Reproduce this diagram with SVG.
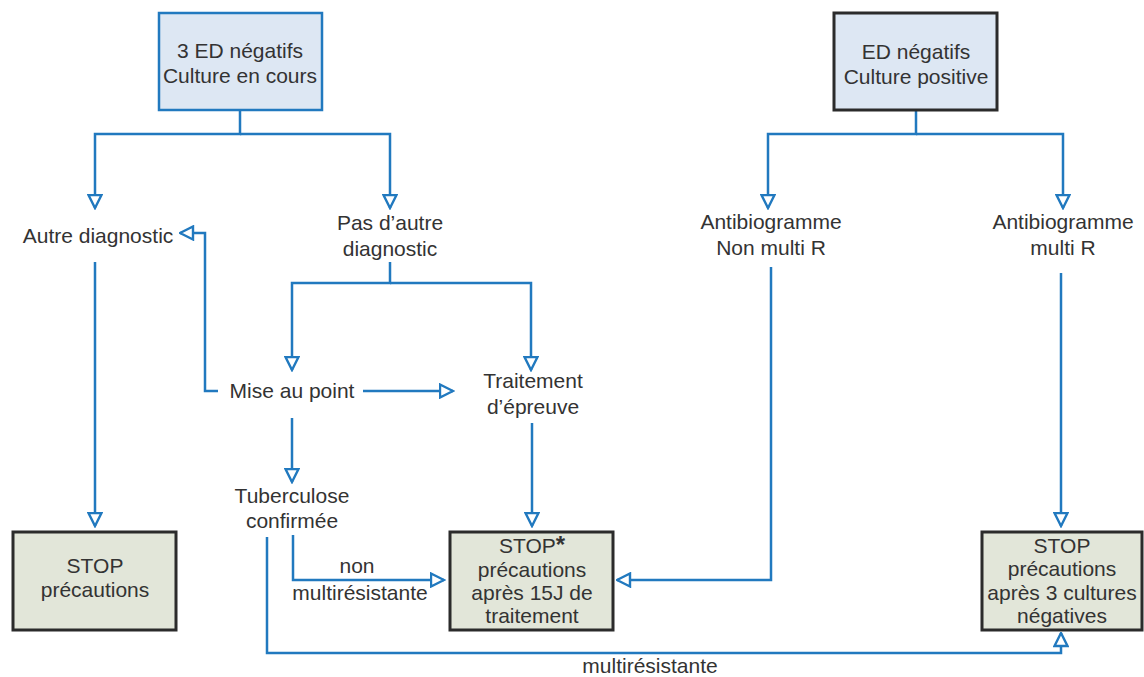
<svg xmlns="http://www.w3.org/2000/svg" width="1144" height="677" viewBox="0 0 1144 677">
<style>
text{font-family:"Liberation Sans",Arial,sans-serif;font-size:21px;fill:#333;text-anchor:middle}
.con{fill:none;stroke:#2179bf;stroke-width:2.5;marker-end:url(#arr)}
.bluebox{fill:#dde7f3;stroke:#2179bf;stroke-width:2.5}
.darkbox{fill:#dde7f3;stroke:#2b2b2b;stroke-width:3}
.stopbox{fill:#e2e6d9;stroke:#2b2b2b;stroke-width:3}
</style>
<defs>
<marker id="arr" viewBox="0 0 16 16" markerWidth="16" markerHeight="16" refX="14.5" refY="8" orient="auto" markerUnits="userSpaceOnUse">
<path d="M1.5,1.5 L14.5,8 L1.5,14.5 Z" fill="#fff" stroke="#2179bf" stroke-width="2.4" stroke-linejoin="miter"/>
</marker>
</defs>
<rect width="1144" height="677" fill="#fff"/>
<g id="connectors">
<path class="con" d="M240,110 V134 H95 V208"/>
<path class="con" d="M240,134 H390 V208"/>
<path class="con" d="M916,110 V134 H768 V208"/>
<path class="con" d="M916,134 H1063 V208"/>
<path class="con" d="M95,262 V526"/>
<path class="con" d="M390,262 V283 H292 V370"/>
<path class="con" d="M390,283 H531 V370"/>
<path class="con" d="M218,391 H205 V233 H180"/>
<path class="con" d="M363,391 H453"/>
<path class="con" d="M292,418 V482"/>
<path class="con" d="M532,423 V526"/>
<path class="con" d="M293,535 V580 H444"/>
<path class="con" d="M267,537 V653 H1061 V633"/>
<path class="con" d="M771,267 V580 H617"/>
<path class="con" d="M1061,273 V526"/>
<text x="357" y="573">non</text>
<text x="360" y="600">multirésistante</text>
<text x="650" y="673">multirésistante</text>
</g>
<g id="n_ed3">
<rect class="bluebox" x="159" y="13" width="163" height="97"/>
<text x="240" y="58">3 ED négatifs</text>
<text x="240" y="83">Culture en cours</text>
</g>
<g id="n_edpos">
<rect class="darkbox" x="834" y="13" width="163" height="97"/>
<text x="916" y="59">ED négatifs</text>
<text x="916" y="84">Culture positive</text>
</g>
<g id="n_autre">
<text x="98" y="243">Autre diagnostic</text>
</g>
<g id="n_pasautre">
<text x="390" y="230">Pas d’autre</text>
<text x="390" y="256">diagnostic</text>
</g>
<g id="n_mise">
<text x="292" y="398">Mise au point</text>
</g>
<g id="n_traitement">
<text x="533" y="388">Traitement</text>
<text x="533" y="414">d’épreuve</text>
</g>
<g id="n_tuber">
<text x="292" y="503">Tuberculose</text>
<text x="292" y="528">confirmée</text>
</g>
<g id="n_antibio1">
<text x="771" y="229">Antibiogramme</text>
<text x="771" y="255">Non multi R</text>
</g>
<g id="n_antibio2">
<text x="1063" y="229">Antibiogramme</text>
<text x="1063" y="255">multi R</text>
</g>
<g id="n_stop1">
<rect class="stopbox" x="13" y="532" width="163" height="98"/>
<text x="95" y="573">STOP</text>
<text x="95" y="597">précautions</text>
</g>
<g id="n_stop2">
<rect class="stopbox" x="450" y="532" width="163" height="98"/>
<text x="532" y="553">STOP<tspan font-weight="bold" font-size="24px">*</tspan></text>
<text x="532" y="577">précautions</text>
<text x="532" y="600">après 15J de</text>
<text x="532" y="623">traitement</text>
</g>
<g id="n_stop3">
<rect class="stopbox" x="982" y="532" width="160" height="98"/>
<text x="1062" y="553">STOP</text>
<text x="1062" y="576">précautions</text>
<text x="1062" y="600">après 3 cultures</text>
<text x="1062" y="623">négatives</text>
</g>
</svg>
